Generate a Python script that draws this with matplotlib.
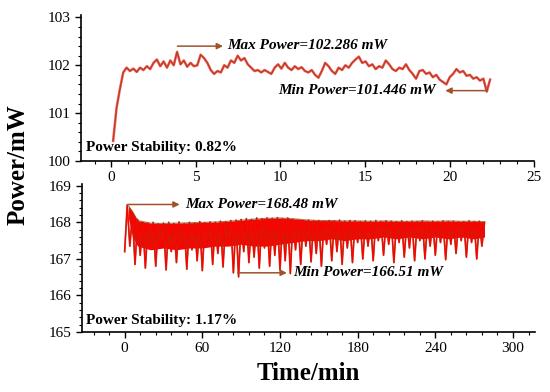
"""
Laser output power stability: two stacked traces (short and long run).
"""

import numpy as np
import matplotlib
matplotlib.use("Agg")
import matplotlib.pyplot as plt
from matplotlib.ticker import AutoMinorLocator, MultipleLocator

plt.rcParams["font.family"] = ["Liberation Serif", "DejaVu Serif"]

# --- short run (0-22.4 min), one reading every ~0.2 min ---
top_power = [
    100.42, 101.10, 101.50, 101.85, 101.95, 101.88, 101.93, 101.86, 101.95, 101.90,
    101.98, 101.92, 102.05, 102.12, 101.98, 102.08, 101.95, 102.10, 102.00, 102.28,
    102.02, 102.10, 101.97, 102.05, 101.98, 102.00, 102.22, 102.15, 102.05, 101.90,
    101.82, 101.88, 101.85, 102.00, 101.95, 102.10, 102.05, 102.20, 102.10, 102.15,
    102.02, 101.95, 101.88, 101.90, 101.85, 101.90, 101.86, 101.82, 101.95, 102.02,
    101.93, 102.05, 101.95, 101.90, 101.98, 101.92, 101.96, 101.88, 101.85, 101.90,
    101.80, 101.74, 101.88, 102.05, 101.98, 101.88, 101.82, 101.95, 101.90, 102.00,
    101.95, 102.05, 102.12, 102.18, 102.05, 102.08, 101.98, 102.02, 101.92, 101.98,
    101.95, 102.10, 102.02, 101.92, 101.88, 101.95, 101.92, 102.02, 101.90, 101.82,
    101.72, 101.88, 101.90, 101.82, 101.85, 101.75, 101.80, 101.70, 101.65, 101.60,
    101.75, 101.82, 101.92, 101.85, 101.88, 101.78, 101.80, 101.72, 101.75, 101.68,
    101.72, 101.45, 101.70,
]
top_start, top_end = 0.1, 22.4

# --- long run (0-278 min), one reading every 2 min (spikes) ---
bot_power = [
    167.20, 168.48, 167.35, 168.22, 166.85, 168.08, 167.10, 168.00, 166.75, 167.98,
    167.30, 168.00, 166.80, 167.96, 167.45, 167.98, 166.70, 168.00, 167.20, 167.97,
    166.90, 168.01, 167.40, 167.96, 166.72, 168.00, 167.25, 167.98, 166.95, 168.02,
    166.68, 167.99, 167.35, 168.01, 166.85, 168.00, 167.15, 168.03, 166.78, 168.02,
    167.40, 168.05, 166.62, 168.06, 166.51, 168.08, 167.20, 168.10, 166.90, 168.08,
    167.05, 168.12, 166.75, 168.10, 167.30, 168.12, 166.80, 168.11, 167.10, 168.13,
    166.70, 168.10, 166.95, 168.12, 166.60, 168.08, 167.25, 168.06, 166.85, 168.05,
    167.35, 168.06, 166.92, 168.04, 167.15, 168.05, 166.80, 168.03, 167.40, 168.05,
    166.95, 168.04, 167.20, 168.06, 166.85, 168.03, 167.30, 168.05, 166.90, 168.04,
    167.45, 168.02, 167.00, 168.04, 167.35, 168.03, 166.95, 168.05, 167.50, 168.02,
    167.10, 168.04, 167.40, 168.03, 166.90, 168.02, 167.45, 168.04, 167.05, 168.02,
    167.30, 168.03, 166.95, 168.02, 167.50, 168.04, 167.00, 168.01, 167.35, 168.03,
    167.10, 168.02, 167.45, 168.04, 166.98, 168.02, 167.40, 168.03, 167.15, 168.01,
    167.50, 168.02, 167.05, 168.04, 167.45, 168.02, 167.00, 168.03, 167.35, 168.00,
]
bot_start, bot_end = 0.0, 278.0

# dense part of the long run: upper envelope and bottom of the solid band
band_time = [3, 6, 10, 20, 30, 40, 50, 60, 70, 80, 90, 100, 110, 120, 130,
             140, 150, 160, 170, 180, 190, 200, 210, 220, 230, 240, 250, 260, 270, 278]
band_high = [168.45, 168.30, 168.05, 167.98, 167.97, 167.98, 167.99, 168.00, 168.01,
             168.03, 168.06, 168.09, 168.11, 168.12, 168.10, 168.07, 168.05, 168.05,
             168.04, 168.04, 168.03, 168.04, 168.03, 168.03, 168.04, 168.03, 168.04,
             168.03, 168.03, 168.02]
band_low = [168.10, 167.60, 167.35, 167.25, 167.30, 167.25, 167.30, 167.30, 167.35,
            167.35, 167.40, 167.35, 167.35, 167.40, 167.45, 167.50, 167.50, 167.55,
            167.50, 167.55, 167.55, 167.60, 167.55, 167.60, 167.55, 167.60, 167.55,
            167.60, 167.55, 167.60]

top_labels = ["Max Power=102.286 mW", "Min Power=101.446 mW", "Power Stability: 0.82%"]
bot_labels = ["Max Power=168.48 mW", "Min Power=166.51 mW", "Power Stability: 1.17%"]

RED = "#ff0000"
BROWN = "#8b4a1c"
ARROW = "#a0522d"


def style_axes(ax, xmajor, ymajor):
    ax.set_facecolor("none")
    for side in ("top", "right"):
        ax.spines[side].set_visible(False)
    ax.spines["left"].set_linewidth(1.2)
    ax.spines["bottom"].set_linewidth(1.2)
    ax.xaxis.set_major_locator(MultipleLocator(xmajor))
    ax.yaxis.set_major_locator(MultipleLocator(ymajor))
    ax.xaxis.set_minor_locator(AutoMinorLocator(5))
    ax.yaxis.set_minor_locator(AutoMinorLocator(5))
    ax.tick_params(which="major", direction="out", length=4, width=1, labelsize=11)
    ax.tick_params(which="minor", direction="out", length=2, width=0.8)


def arrow(ax, x0, x1, y):
    ax.annotate("", xy=(x1, y), xytext=(x0, y),
                arrowprops=dict(arrowstyle="-|>", color=ARROW, lw=1.1,
                                mutation_scale=9, shrinkA=0, shrinkB=0))


def main():
    fig = plt.figure(figsize=(5.5, 3.92), dpi=100)
    ax1 = fig.add_axes([0.1473, 0.5893, 0.8237, 0.3724])
    ax2 = fig.add_axes([0.149, 0.153, 0.8237, 0.3776])

    # top panel
    t1 = np.linspace(top_start, top_end, len(top_power))
    ax1.plot(t1, top_power, color=RED, lw=1.8, alpha=0.7)
    ax1.plot(t1, top_power, color=BROWN, lw=0.6)
    ax1.set_xlim(-1.8, 25)
    ax1.set_ylim(100, 103.05)
    style_axes(ax1, 5, 1)

    arrow(ax1, 3.9, 6.6, 102.40)
    ax1.text(6.85, 102.42, top_labels[0], fontsize=11, fontweight="bold",
             style="italic", va="center", ha="left")
    arrow(ax1, 22.25, 19.75, 101.47)
    ax1.text(19.2, 101.47, top_labels[1], fontsize=11, fontweight="bold",
             style="italic", va="center", ha="right")
    ax1.text(0.011, 0.095, top_labels[2], transform=ax1.transAxes,
             fontsize=11, fontweight="bold", va="center", ha="left")

    # bottom panel
    t2 = np.linspace(bot_start, bot_end, len(bot_power))
    ax2.plot(t2, bot_power, color=BROWN, lw=1.3, alpha=0.85)
    ax2.plot(t2, bot_power, color=RED, lw=0.9)
    ax2.fill_between(band_time, band_low, band_high, color=RED, lw=0)
    ax2.plot(band_time, band_high, color=BROWN, lw=0.8, alpha=0.7)
    ax2.set_xlim(-33, 317)
    ax2.set_ylim(165, 169.05)
    style_axes(ax2, 60, 1)

    arrow(ax2, 2.3, 42.5, 168.49)
    ax2.text(46.4, 168.49, bot_labels[0], fontsize=11, fontweight="bold",
             style="italic", va="center", ha="left")
    arrow(ax2, 87.4, 125.3, 166.62)
    ax2.text(130, 166.62, bot_labels[1], fontsize=11, fontweight="bold",
             style="italic", va="center", ha="left")
    ax2.text(0.009, 0.08, bot_labels[2], transform=ax2.transAxes,
             fontsize=11, fontweight="bold", va="center", ha="left")

    fig.text(0.033, 0.579, "Power/mW", rotation=90, fontsize=18,
             fontweight="bold", ha="center", va="center")
    fig.text(0.56, 0.046, "Time/min", fontsize=18, fontweight="bold",
             ha="center", va="center")

    fig.savefig("out.png", dpi=100)


if __name__ == "__main__":
    main()
